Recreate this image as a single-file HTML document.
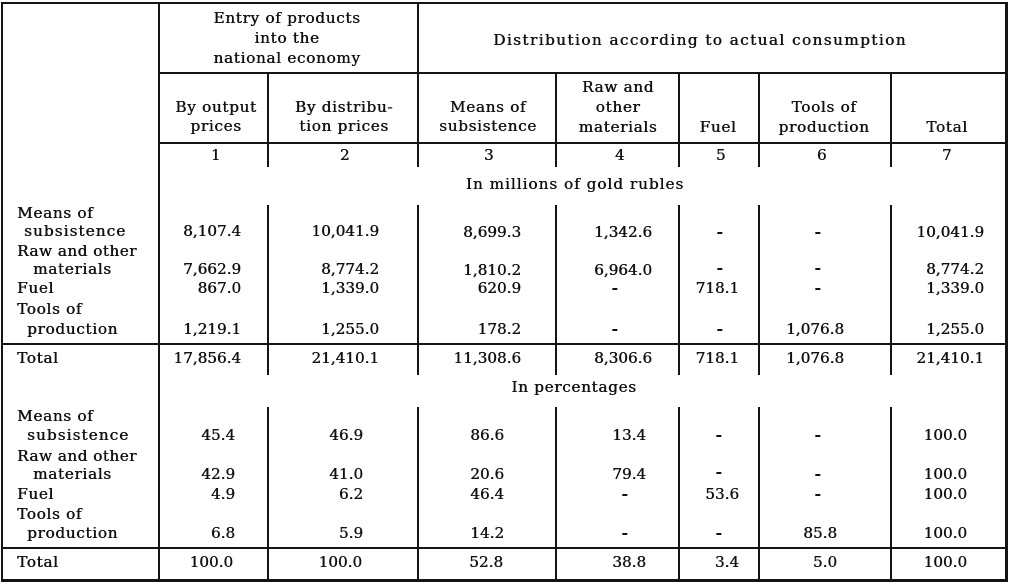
<!DOCTYPE html>
<html>
<head>
<meta charset="utf-8">
<style>
html,body{margin:0;padding:0;background:#fff;}
#c{position:relative;width:1012px;height:586px;overflow:hidden;background:#fff;}
.l{position:absolute;background:#141414;}
.t{position:absolute;font-family:"DejaVu Serif","Liberation Serif",serif;font-size:15.2px;line-height:20px;height:20px;white-space:nowrap;color:#111;letter-spacing:.7px;text-shadow:0.45px 0 0 #111;}
.c{text-align:center;width:200px;}
.w{text-align:center;width:500px;}
.r{text-align:right;width:150px;letter-spacing:0;}
.d{font-weight:bold;}
</style>
</head>
<body>
<div id="c">
<!-- outer border -->
<div class="l" style="left:1px;top:2px;width:1007px;height:2px"></div>
<div class="l" style="left:1px;top:2px;width:2px;height:580px"></div>
<div class="l" style="left:1005px;top:2px;width:3px;height:580px"></div>
<div class="l" style="left:1px;top:579px;width:1007px;height:3px"></div>
<!-- horizontal lines -->
<div class="l" style="left:159px;top:72px;width:848px;height:1.5px"></div>
<div class="l" style="left:159px;top:142px;width:848px;height:2px"></div>
<div class="l" style="left:1px;top:343px;width:1006px;height:2px"></div>
<div class="l" style="left:1px;top:547px;width:1006px;height:2px"></div>
<!-- vertical lines -->
<div class="l" style="left:158px;top:2px;width:1.5px;height:580px"></div>
<div class="l" style="left:417px;top:2px;width:1.5px;height:165px"></div>
<div class="l" style="left:267px;top:72px;width:1.5px;height:95px"></div>
<div class="l" style="left:555px;top:72px;width:1.5px;height:95px"></div>
<div class="l" style="left:678px;top:72px;width:1.5px;height:95px"></div>
<div class="l" style="left:758px;top:72px;width:1.5px;height:95px"></div>
<div class="l" style="left:890px;top:72px;width:1.5px;height:95px"></div>

<div class="l" style="left:267px;top:205px;width:1.5px;height:170px"></div>
<div class="l" style="left:417px;top:205px;width:1.5px;height:170px"></div>
<div class="l" style="left:555px;top:205px;width:1.5px;height:170px"></div>
<div class="l" style="left:678px;top:205px;width:1.5px;height:170px"></div>
<div class="l" style="left:758px;top:205px;width:1.5px;height:170px"></div>
<div class="l" style="left:890px;top:205px;width:1.5px;height:170px"></div>

<div class="l" style="left:267px;top:407px;width:1.5px;height:173px"></div>
<div class="l" style="left:417px;top:407px;width:1.5px;height:173px"></div>
<div class="l" style="left:555px;top:407px;width:1.5px;height:173px"></div>
<div class="l" style="left:678px;top:407px;width:1.5px;height:173px"></div>
<div class="l" style="left:758px;top:407px;width:1.5px;height:173px"></div>
<div class="l" style="left:890px;top:407px;width:1.5px;height:173px"></div>

<!-- header row 1 -->
<div class="t c" style="left:187px;top:8px">Entry of products</div>
<div class="t c" style="left:187px;top:28px">into the</div>
<div class="t c" style="left:187px;top:48px">national economy</div>
<div class="t w" style="left:450px;top:30px;letter-spacing:1.45px">Distribution according to actual consumption</div>

<!-- header row 2 -->
<div class="t c" style="left:116px;top:97px">By output</div>
<div class="t c" style="left:116px;top:116px">prices</div>
<div class="t c" style="left:244px;top:97px">By distribu-</div>
<div class="t c" style="left:244px;top:116px">tion prices</div>
<div class="t c" style="left:388px;top:97px">Means of</div>
<div class="t c" style="left:388px;top:116px">subsistence</div>
<div class="t c" style="left:518px;top:77px">Raw and</div>
<div class="t c" style="left:518px;top:97px">other</div>
<div class="t c" style="left:518px;top:117px">materials</div>
<div class="t c" style="left:618px;top:117px">Fuel</div>
<div class="t c" style="left:724px;top:97px">Tools of</div>
<div class="t c" style="left:724px;top:117px">production</div>
<div class="t c" style="left:847px;top:117px">Total</div>

<!-- number row -->
<div class="t c" style="left:116px;top:145px">1</div>
<div class="t c" style="left:245px;top:145px">2</div>
<div class="t c" style="left:389px;top:145px">3</div>
<div class="t c" style="left:520px;top:145px">4</div>
<div class="t c" style="left:621px;top:145px">5</div>
<div class="t c" style="left:722px;top:145px">6</div>
<div class="t c" style="left:847px;top:145px">7</div>

<div class="t w" style="left:325px;top:174px;letter-spacing:1px">In millions of gold rubles</div>

<!-- labels millions -->
<div class="t" style="left:17px;top:203px">Means of</div>
<div class="t" style="left:24px;top:221px;letter-spacing:1.1px">subsistence</div>
<div class="t" style="left:17px;top:241px;letter-spacing:.5px">Raw and other</div>
<div class="t" style="left:33px;top:259px">materials</div>
<div class="t" style="left:17px;top:278px">Fuel</div>
<div class="t" style="left:17px;top:299px">Tools of</div>
<div class="t" style="left:27px;top:319px">production</div>
<div class="t" style="left:17px;top:348px">Total</div>

<!-- col1 millions -->
<div class="t r" style="left:91px;top:221px">8,107.4</div>
<div class="t r" style="left:91px;top:259px">7,662.9</div>
<div class="t r" style="left:91px;top:278px">867.0</div>
<div class="t r" style="left:91px;top:319px">1,219.1</div>
<div class="t r" style="left:91px;top:348px">17,856.4</div>
<!-- col2 -->
<div class="t r" style="left:229px;top:221px">10,041.9</div>
<div class="t r" style="left:229px;top:259px">8,774.2</div>
<div class="t r" style="left:229px;top:278px">1,339.0</div>
<div class="t r" style="left:229px;top:319px">1,255.0</div>
<div class="t r" style="left:229px;top:348px">21,410.1</div>
<!-- col3 -->
<div class="t r" style="left:371px;top:222px">8,699.3</div>
<div class="t r" style="left:371px;top:260px">1,810.2</div>
<div class="t r" style="left:371px;top:278px">620.9</div>
<div class="t r" style="left:371px;top:319px">178.2</div>
<div class="t r" style="left:371px;top:348px">11,308.6</div>
<!-- col4 -->
<div class="t r" style="left:502px;top:222px">1,342.6</div>
<div class="t r" style="left:502px;top:260px">6,964.0</div>
<div class="t c d" style="left:515px;top:278px">-</div>
<div class="t c d" style="left:515px;top:319px">-</div>
<div class="t r" style="left:502px;top:348px">8,306.6</div>
<!-- col5 -->
<div class="t c d" style="left:620px;top:222px">-</div>
<div class="t c d" style="left:620px;top:258px">-</div>
<div class="t r" style="left:589px;top:278px">718.1</div>
<div class="t c d" style="left:620px;top:319px">-</div>
<div class="t r" style="left:589px;top:348px">718.1</div>
<!-- col6 -->
<div class="t c d" style="left:718px;top:222px">-</div>
<div class="t c d" style="left:718px;top:258px">-</div>
<div class="t c d" style="left:718px;top:278px">-</div>
<div class="t r" style="left:694px;top:319px">1,076.8</div>
<div class="t r" style="left:694px;top:348px">1,076.8</div>
<!-- col7 -->
<div class="t r" style="left:834px;top:222px">10,041.9</div>
<div class="t r" style="left:834px;top:259px">8,774.2</div>
<div class="t r" style="left:834px;top:278px">1,339.0</div>
<div class="t r" style="left:834px;top:319px">1,255.0</div>
<div class="t r" style="left:834px;top:348px">21,410.1</div>

<div class="t w" style="left:324px;top:377px">In percentages</div>

<!-- labels percentages -->
<div class="t" style="left:17px;top:406px">Means of</div>
<div class="t" style="left:27px;top:425px;letter-spacing:1.1px">subsistence</div>
<div class="t" style="left:17px;top:446px;letter-spacing:.5px">Raw and other</div>
<div class="t" style="left:33px;top:464px">materials</div>
<div class="t" style="left:17px;top:484px">Fuel</div>
<div class="t" style="left:17px;top:504px">Tools of</div>
<div class="t" style="left:27px;top:523px">production</div>
<div class="t" style="left:17px;top:552px">Total</div>

<!-- col1 pct -->
<div class="t r" style="left:85px;top:425px">45.4</div>
<div class="t r" style="left:85px;top:464px">42.9</div>
<div class="t r" style="left:85px;top:484px">4.9</div>
<div class="t r" style="left:85px;top:523px">6.8</div>
<div class="t r" style="left:83px;top:552px">100.0</div>
<!-- col2 pct -->
<div class="t r" style="left:213px;top:425px">46.9</div>
<div class="t r" style="left:213px;top:464px">41.0</div>
<div class="t r" style="left:213px;top:484px">6.2</div>
<div class="t r" style="left:213px;top:523px">5.9</div>
<div class="t r" style="left:212px;top:552px">100.0</div>
<!-- col3 pct -->
<div class="t r" style="left:354px;top:425px">86.6</div>
<div class="t r" style="left:354px;top:464px">20.6</div>
<div class="t r" style="left:354px;top:484px">46.4</div>
<div class="t r" style="left:354px;top:523px">14.2</div>
<div class="t r" style="left:353px;top:552px">52.8</div>
<!-- col4 pct -->
<div class="t r" style="left:496px;top:425px">13.4</div>
<div class="t r" style="left:496px;top:464px">79.4</div>
<div class="t c d" style="left:525px;top:484px">-</div>
<div class="t c d" style="left:525px;top:523px">-</div>
<div class="t r" style="left:496px;top:552px">38.8</div>
<!-- col5 pct -->
<div class="t c d" style="left:619px;top:425px">-</div>
<div class="t c d" style="left:619px;top:462px">-</div>
<div class="t r" style="left:589px;top:484px">53.6</div>
<div class="t c d" style="left:619px;top:523px">-</div>
<div class="t r" style="left:589px;top:552px">3.4</div>
<!-- col6 pct -->
<div class="t c d" style="left:718px;top:425px">-</div>
<div class="t c d" style="left:718px;top:464px">-</div>
<div class="t c d" style="left:718px;top:484px">-</div>
<div class="t r" style="left:687px;top:523px">85.8</div>
<div class="t r" style="left:687px;top:552px">5.0</div>
<!-- col7 pct -->
<div class="t r" style="left:817px;top:425px">100.0</div>
<div class="t r" style="left:817px;top:464px">100.0</div>
<div class="t r" style="left:817px;top:484px">100.0</div>
<div class="t r" style="left:817px;top:523px">100.0</div>
<div class="t r" style="left:817px;top:552px">100.0</div>
</div>
</body>
</html>
